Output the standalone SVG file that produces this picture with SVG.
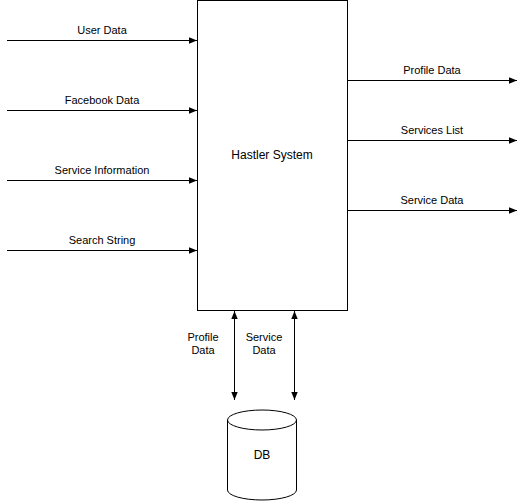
<svg xmlns="http://www.w3.org/2000/svg" width="527" height="504" viewBox="0 0 527 504">
<style>
text{font-family:"Liberation Sans",Arial,sans-serif;font-size:11px;fill:#000;text-anchor:middle}
.l{stroke:#000;stroke-width:1;fill:none}
.s{fill:#fff;stroke:#000;stroke-width:1}
</style>
<defs>
<marker id="a" viewBox="0 0 10 10" refX="10" refY="5" markerWidth="8" markerHeight="8" markerUnits="userSpaceOnUse" orient="auto-start-reverse">
<path d="M0,1 L10,5 L0,9 Z" fill="#000"/>
</marker>
</defs>
<rect width="527" height="504" fill="#fff"/>
<g id="system">
<rect class="s" x="197.5" y="0.5" width="150" height="310"/>
<text x="272" y="159" style="font-size:12px">Hastler System</text>
</g>
<g id="db">
<path class="s" d="M227.5,420 A34.5,10 0 0 1 296.5,420 L296.5,490 A34.5,10 0 0 1 227.5,490 Z"/>
<path class="l" d="M227.5,420 A34.5,10 0 0 0 296.5,420"/>
<text x="262" y="459" style="font-size:12px">DB</text>
</g>
<g id="connectors">
<line class="l" x1="7" y1="40.5" x2="197" y2="40.5" marker-end="url(#a)"/>
<line class="l" x1="7" y1="110.5" x2="197" y2="110.5" marker-end="url(#a)"/>
<line class="l" x1="7" y1="180.5" x2="197" y2="180.5" marker-end="url(#a)"/>
<line class="l" x1="7" y1="250.5" x2="197" y2="250.5" marker-end="url(#a)"/>
<line class="l" x1="348" y1="80.5" x2="517" y2="80.5" marker-end="url(#a)"/>
<line class="l" x1="348" y1="140.5" x2="517" y2="140.5" marker-end="url(#a)"/>
<line class="l" x1="348" y1="210.5" x2="517" y2="210.5" marker-end="url(#a)"/>
<line class="l" x1="234.5" y1="311" x2="234.5" y2="400" marker-start="url(#a)" marker-end="url(#a)"/>
<line class="l" x1="294.5" y1="311" x2="294.5" y2="400" marker-start="url(#a)" marker-end="url(#a)"/>
<text x="102" y="34">User Data</text>
<text x="102" y="104">Facebook Data</text>
<text x="102" y="174">Service Information</text>
<text x="102" y="244">Search String</text>
<text x="432" y="74">Profile Data</text>
<text x="432" y="134">Services List</text>
<text x="432" y="204">Service Data</text>
<text x="203" y="341">Profile</text>
<text x="203" y="354">Data</text>
<text x="264" y="341">Service</text>
<text x="264" y="354">Data</text>
</g>
</svg>
